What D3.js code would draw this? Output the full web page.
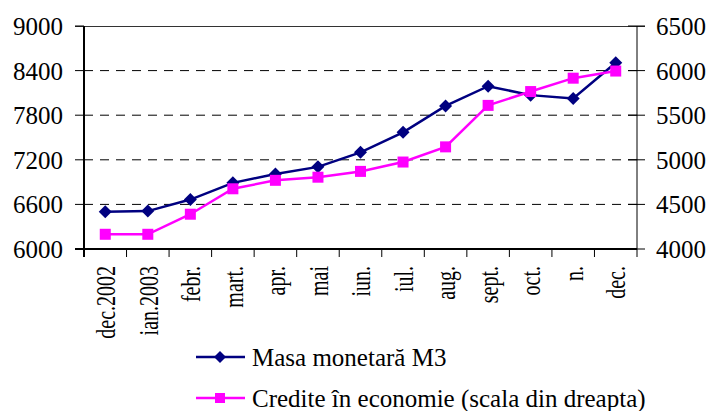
<!DOCTYPE html>
<html>
<head>
<meta charset="utf-8">
<script src="https://cdn.jsdelivr.net/npm/d3@7"></script>
<style>
  body { margin: 0; background: #fff; }
</style>
</head>
<body>
<script>
const months = ["dec.2002", "ian.2003", "febr.", "mart.", "apr.", "mai", "iun.", "iul.", "aug.", "sept.", "oct.", "n.", "dec."];
const masaM3 = [6500, 6510, 6665, 6890, 7010, 7105, 7300, 7570, 7925, 8190, 8070, 8025, 8505];
const credite = [4165, 4165, 4390, 4675, 4770, 4805, 4870, 4975, 5145, 5610, 5765, 5915, 5995];
const leftTicks = [6000, 6600, 7200, 7800, 8400, 9000];
const rightTicks = [4000, 4500, 5000, 5500, 6000, 6500];
const seriesNames = ["Masa monetară M3", "Credite în economie (scala din dreapta)"];

const W = 712, H = 411;
const plotL = 84, plotR = 637, plotT = 26, plotB = 249;
const font = "'Liberation Serif', 'Times New Roman', 'Liberation Sans', serif";

const svg = d3.select("body").append("svg")
  .attr("width", W).attr("height", H)
  .style("font-family", font);

const x = d3.scaleBand().domain(months).range([plotL, plotR]);
const yL = d3.scaleLinear().domain([6000, 9000]).range([plotB, plotT]);
const yR = d3.scaleLinear().domain([4000, 6500]).range([plotB, plotT]);
const cx = (m) => x(m) + x.bandwidth() / 2;

// dashed gridlines
svg.append("g")
  .selectAll("line")
  .data(leftTicks.filter((d) => d > 6000 && d < 9000))
  .join("line")
  .attr("x1", plotL).attr("x2", plotR)
  .attr("y1", (d) => yL(d)).attr("y2", (d) => yL(d))
  .attr("stroke", "#000")
  .attr("stroke-width", 1)
  .attr("stroke-dasharray", "9,7");

// top line
svg.append("line")
  .attr("x1", plotL - 9).attr("x2", plotR + 8)
  .attr("y1", plotT + 0.5).attr("y2", plotT + 0.5)
  .attr("stroke", "#333").attr("stroke-width", 1);

// right axis
const gR = svg.append("g").attr("transform", `translate(${plotR},0)`);
gR.append("line").attr("x1", 0).attr("x2", 0).attr("y1", plotT).attr("y2", plotB).attr("stroke", "#000");
gR.selectAll("line.t").data(rightTicks).join("line").attr("class", "t")
  .attr("x1", -9).attr("x2", 8)
  .attr("y1", (d) => yR(d)).attr("y2", (d) => yR(d))
  .attr("stroke", "#000");
gR.selectAll("text").data(rightTicks).join("text")
  .attr("x", 19).attr("y", (d) => yR(d)).attr("dy", "0.36em")
  .style("font-size", "25px")
  .text((d) => d);

// bottom axis
svg.append("line").attr("x1", plotL - 9).attr("x2", plotR)
  .attr("y1", plotB).attr("y2", plotB)
  .attr("stroke", "#000").attr("stroke-width", 2);
svg.append("g").selectAll("line")
  .data(months.map((m) => x(m)).concat([plotR]))
  .join("line")
  .attr("x1", (d) => d).attr("x2", (d) => d)
  .attr("y1", plotB).attr("y2", plotB + 8)
  .attr("stroke", "#000");

// left axis
const gL = svg.append("g");
gL.append("line").attr("x1", plotL).attr("x2", plotL).attr("y1", plotT).attr("y2", plotB + 8)
  .attr("stroke", "#000").attr("stroke-width", 2);
gL.selectAll("line.t").data(leftTicks).join("line").attr("class", "t")
  .attr("x1", plotL - 9).attr("x2", plotL)
  .attr("y1", (d) => yL(d)).attr("y2", (d) => yL(d))
  .attr("stroke", "#000");
gL.selectAll("text").data(leftTicks).join("text")
  .attr("x", 63).attr("y", (d) => yL(d)).attr("dy", "0.36em")
  .attr("text-anchor", "end")
  .style("font-size", "25px")
  .text((d) => d);

// category labels, rotated
svg.append("g").selectAll("text")
  .data(months)
  .join("text")
  .attr("transform", (m) => `translate(${cx(m)},266) scale(1.35,1) rotate(-90)`)
  .attr("text-anchor", "end")
  .attr("dy", "0.36em")
  .style("font-size", "20px")
  .text((m) => m);

// series
const blue = "#000080", pink = "#FF00FF";
const line = d3.line();
const diamond = (s) => `M0,${-s}L${s},0L0,${s}L${-s},0Z`;

svg.append("path")
  .attr("d", line(months.map((m, i) => [cx(m), yL(masaM3[i])])))
  .attr("fill", "none").attr("stroke", blue).attr("stroke-width", 2.5);
svg.append("g").selectAll("path")
  .data(months)
  .join("path")
  .attr("transform", (m, i) => `translate(${cx(m)},${yL(masaM3[i])})`)
  .attr("d", diamond(6.5))
  .attr("fill", blue);

svg.append("path")
  .attr("d", line(months.map((m, i) => [cx(m), yR(credite[i])])))
  .attr("fill", "none").attr("stroke", pink).attr("stroke-width", 2.5);
svg.append("g").selectAll("rect")
  .data(months)
  .join("rect")
  .attr("x", (m) => cx(m) - 5.5)
  .attr("y", (m, i) => yR(credite[i]) - 5.5)
  .attr("width", 11).attr("height", 11)
  .attr("fill", pink);

// legend
const legend = svg.append("g");
const legY = [357, 398];
const colors = [blue, pink];
seriesNames.forEach((name, i) => {
  legend.append("line")
    .attr("x1", 196).attr("x2", 245)
    .attr("y1", legY[i]).attr("y2", legY[i])
    .attr("stroke", colors[i]).attr("stroke-width", 2.5);
  if (i === 0) {
    legend.append("path").attr("transform", `translate(220,${legY[i]})`)
      .attr("d", diamond(6)).attr("fill", blue);
  } else {
    legend.append("rect").attr("x", 215).attr("y", legY[i] - 5).attr("width", 10).attr("height", 10)
      .attr("fill", pink);
  }
  legend.append("text")
    .attr("x", 252).attr("y", legY[i] + 9)
    .style("font-size", "25px")
    .text(name);
});
</script>
</body>
</html>
